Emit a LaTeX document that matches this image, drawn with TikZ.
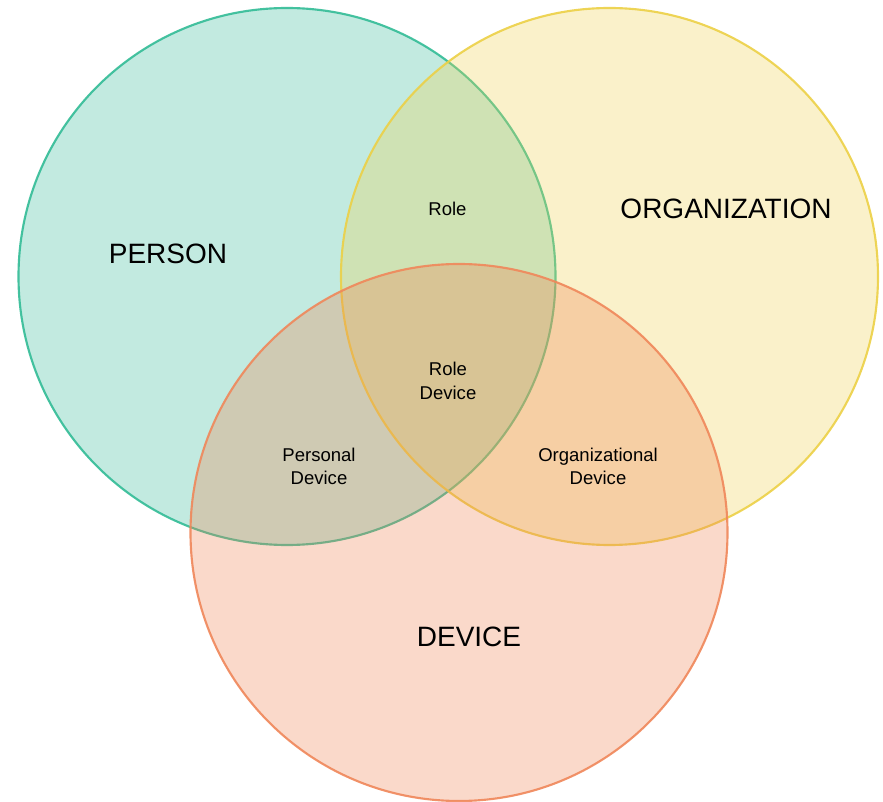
\documentclass[tikz,border=0pt]{standalone}
\usepackage{fontspec}
\setmainfont{Liberation Sans}
\definecolor{tealfill}{RGB}{52,185,152}
\definecolor{tealline}{RGB}{50,188,150}
\definecolor{yelfill}{RGB}{238,210,80}
\definecolor{yelline}{RGB}{236,208,70}
\definecolor{salfill}{RGB}{238,128,78}
\definecolor{salline}{RGB}{240,135,90}
\tikzset{
  venn/.style={circle, inner sep=0pt, minimum size=537*0.75pt, line width=1.6pt, fill opacity=0.3, draw opacity=0.9},
  biglabel/.style={inner sep=0pt, font=\fontsize{21}{24}\selectfont, anchor=center},
  smalllabel/.style={inner sep=0pt, font=\fontsize{13.9}{17.6}\selectfont, align=center, anchor=center}
}
\begin{document}
\begin{tikzpicture}[x=0.75pt,y=-0.75pt]
\useasboundingbox (0,0) rectangle (883,802);
\node[venn, fill=tealfill, draw=tealline] (person) at (287,276.5) {};
\node[venn, fill=yelfill, draw=yelline] (org) at (609.5,276.5) {};
\node[venn, fill=salfill, draw=salline] (device) at (459,532.5) {};
\node[biglabel] (personlbl) at (168,253.5) {PERSON};
\node[biglabel] (orglbl) at (726,208.7) {ORGANIZATION};
\node[biglabel] (devicelbl) at (469,637.3) {DEVICE};
\node[smalllabel] (role) at (447.5,209.2) {Role};
\node[smalllabel] (roledev) at (448,380.8) {Role\\Device};
\node[smalllabel] (persdev) at (319,466.3) {Personal\\Device};
\node[smalllabel] (orgdev) at (598,466.3) {Organizational\\Device};
\end{tikzpicture}
\end{document}
